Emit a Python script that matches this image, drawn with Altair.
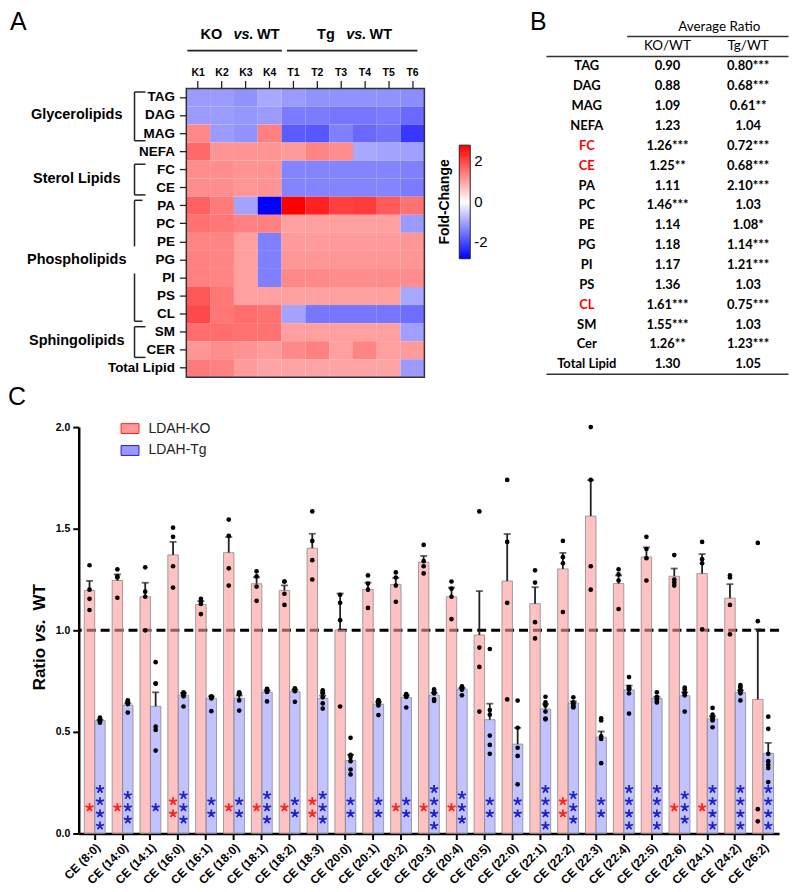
import altair as alt
import pandas as pd

FONT = "Liberation Sans"
TFONT = "Lato"

# ============================== Panel A : heat map ==============================
lipid_rows = ["TAG", "DAG", "MAG", "NEFA", "FC", "CE", "PA", "PC", "PE", "PG",
              "PI", "PS", "CL", "SM", "CER", "Total Lipid"]
sample_cols = ["K1", "K2", "K3", "K4", "T1", "T2", "T3", "T4", "T5", "T6"]
fold_change = [
    [-1.10, -1.10, -1.20, -0.95, -1.10, -1.20, -1.20, -1.20, -1.20, -1.25],  # TAG
    [-1.10, -1.10, -1.15, -1.10, -1.45, -1.45, -1.50, -1.50, -1.45, -1.65],  # DAG
    [1.30, -1.10, -1.20, 1.40, -1.80, -1.85, -1.40, -1.65, -1.55, -2.20],    # MAG
    [1.65, 1.18, 1.18, 1.18, 1.10, 1.35, 1.25, -0.95, -1.00, -1.05],         # NEFA
    [1.25, 1.25, 1.20, 1.20, -1.35, -1.35, -1.35, -1.35, -1.35, -1.40],      # FC
    [1.25, 1.25, 1.15, 1.20, -1.35, -1.35, -1.35, -1.35, -1.35, -1.45],      # CE
    [1.75, 1.45, -1.00, -2.80, 2.80, 2.45, 2.10, 2.15, 1.80, 1.55],          # PA
    [1.55, 1.50, 1.40, 1.40, 1.05, 1.05, 1.05, 1.05, 1.05, -1.10],           # PC
    [1.35, 1.35, 1.05, -1.40, 1.10, 1.10, 1.10, 1.10, 1.10, 1.15],           # PE
    [1.40, 1.35, 1.05, -1.40, 1.15, 1.15, 1.15, 1.15, 1.15, 1.15],           # PG
    [1.40, 1.35, 1.05, -1.40, 1.30, 1.30, 1.25, 1.25, 1.25, 1.25],           # PI
    [1.85, 1.50, 1.05, 1.05, 1.05, 1.05, 1.05, 1.05, 1.05, -0.95],           # PS
    [2.00, 1.50, 1.60, 1.55, -1.00, -1.50, -1.50, -1.50, -1.50, -1.60],      # CL
    [1.60, 1.60, 1.55, 1.55, 1.05, 1.05, 1.05, 1.05, 1.05, -1.05],           # SM
    [1.15, 1.25, 1.20, 1.10, 1.30, 1.40, 1.05, 1.35, 1.05, 1.10],            # CER
    [1.45, 1.40, 1.10, 1.00, 1.00, 1.00, 1.00, 1.00, 1.00, -1.10],           # Total
]
lipid_groups = ["Glycerolipids", "Sterol Lipids", "Phospholipids", "Sphingolipids"]
group_first = ["TAG", "FC", "PA", "SM"]
group_last = ["MAG", "CE", "CL", "CER"]
legend_ticks = [-2, 0, 2]

# ============================== Panel B : table ==============================
table_rows = ["TAG", "DAG", "MAG", "NEFA", "FC", "CE", "PA", "PC", "PE", "PG",
              "PI", "PS", "CL", "SM", "Cer", "Total Lipid"]
ko_ratio = [0.90, 0.88, 1.09, 1.23, 1.26, 1.25, 1.11, 1.46, 1.14, 1.18, 1.17, 1.36, 1.61, 1.55, 1.26, 1.30]
ko_sig = ["", "", "", "", "***", "**", "", "***", "", "", "", "", "***", "***", "**", ""]
tg_ratio = [0.80, 0.68, 0.61, 1.04, 0.72, 0.68, 2.10, 1.03, 1.08, 1.14, 1.21, 1.03, 0.75, 1.03, 1.23, 1.05]
tg_sig = ["***", "***", "**", "", "***", "***", "***", "", "*", "***", "***", "", "***", "", "***", ""]
highlight_rows = ["FC", "CE", "CL"]

# ============================== Panel C : bars ==============================
ce_species = ["CE (8:0)", "CE (14:0)", "CE (14:1)", "CE (16:0)", "CE (16:1)", "CE (18:0)",
              "CE (18:1)", "CE (18:2)", "CE (18:3)", "CE (20:0)", "CE (20:1)", "CE (20:2)",
              "CE (20:3)", "CE (20:4)", "CE (20:5)", "CE (22:0)", "CE (22:1)", "CE (22:2)",
              "CE (22:3)", "CE (22:4)", "CE (22:5)", "CE (22:6)", "CE (24:1)", "CE (24:2)",
              "CE (26:2)"]
groups = ["LDAH-KO", "LDAH-Tg"]
ko_mean = [1.196, 1.245, 1.165, 1.371, 1.127, 1.382, 1.229, 1.196, 1.404, 1.001, 1.201, 1.226,
           1.335, 1.165, 0.977, 1.242, 1.131, 1.302, 1.562, 1.230, 1.361, 1.266, 1.279, 1.158, 0.660]
ko_sem = [0.047, 0.030, 0.069, 0.064, 0.017, 0.077, 0.032, 0.025, 0.071, 0.180, 0.034, 0.032,
          0.031, 0.045, 0.216, 0.232, 0.081, 0.079, 0.177, 0.040, 0.047, 0.038, 0.096, 0.069, 0.345]
tg_mean = [0.555, 0.632, 0.626, 0.681, 0.665, 0.666, 0.695, 0.698, 0.665, 0.359, 0.637, 0.670,
           0.681, 0.710, 0.560, 0.440, 0.613, 0.642, 0.474, 0.706, 0.665, 0.678, 0.564, 0.694, 0.395]
tg_sem = [0.005, 0.009, 0.069, 0.010, 0.010, 0.013, 0.009, 0.009, 0.013, 0.028, 0.011, 0.010,
          0.011, 0.006, 0.079, 0.080, 0.024, 0.008, 0.028, 0.022, 0.008, 0.016, 0.013, 0.010, 0.051]
ko_points = [
    [1.32, 1.20, 1.155, 1.10], [1.30, 1.265, 1.26, 1.16], [1.31, 1.19, 1.165, 1.00],
    [1.505, 1.46, 1.315, 1.21], [1.155, 1.14, 1.13, 1.08], [1.545, 1.465, 1.305, 1.22],
    [1.29, 1.265, 1.215, 1.145], [1.24, 1.24, 1.18, 1.125], [1.585, 1.44, 1.345, 1.25],
    [1.175, 1.135, 1.05, 0.625], [1.27, 1.23, 1.20, 1.11], [1.285, 1.26, 1.22, 1.14],
    [1.42, 1.34, 1.315, 1.28], [1.24, 1.205, 1.165, 1.055], [1.585, 0.915, 0.82, 0.60],
    [1.74, 1.435, 1.135, 0.66], [1.295, 1.235, 1.04, 0.96], [1.44, 1.36, 1.33, 1.09],
    [2.0, 1.74, 1.315, 1.20], [1.30, 1.275, 1.245, 1.105], [1.46, 1.40, 1.355, 1.245],
    [1.37, 1.25, 1.235, 1.22], [1.435, 1.35, 1.33, 1.005], [1.27, 1.26, 1.125, 0.98],
    [1.43, 1.045, 0.12, 0.06],
]
tg_points = [
    [0.57, 0.565, 0.56, 0.555, 0.55, 0.545], [0.655, 0.65, 0.645, 0.64, 0.637, 0.595],
    [0.843, 0.738, 0.738, 0.526, 0.51, 0.408], [0.695, 0.69, 0.685, 0.68, 0.675, 0.625],
    [0.675, 0.673, 0.67, 0.668, 0.665, 0.602], [0.695, 0.69, 0.688, 0.685, 0.655, 0.605],
    [0.712, 0.708, 0.705, 0.70, 0.697, 0.65], [0.715, 0.71, 0.707, 0.703, 0.70, 0.648],
    [0.705, 0.695, 0.69, 0.67, 0.64, 0.615], [0.471, 0.387, 0.377, 0.356, 0.315, 0.291],
    [0.656, 0.652, 0.646, 0.64, 0.63, 0.583], [0.686, 0.683, 0.68, 0.676, 0.672, 0.62],
    [0.71, 0.70, 0.695, 0.69, 0.66, 0.652], [0.724, 0.72, 0.716, 0.712, 0.708, 0.68],
    [0.908, 0.608, 0.585, 0.482, 0.436, 0.392], [0.654, 0.52, 0.422, 0.382, 0.242],
    [0.673, 0.645, 0.63, 0.60, 0.566, 0.562], [0.67, 0.645, 0.64, 0.632, 0.625, 0.62],
    [0.567, 0.556, 0.478, 0.465, 0.346], [0.77, 0.72, 0.715, 0.71, 0.69, 0.59],
    [0.695, 0.672, 0.664, 0.66, 0.65, 0.645], [0.718, 0.71, 0.695, 0.688, 0.68, 0.60],
    [0.618, 0.585, 0.572, 0.565, 0.556, 0.523], [0.73, 0.72, 0.708, 0.70, 0.69, 0.655],
    [0.575, 0.515, 0.392, 0.356, 0.338, 0.322, 0.253],
]
ko_stars = [1, 1, 0, 2, 0, 1, 1, 1, 2, 0, 0, 1, 1, 1, 0, 0, 0, 2, 0, 0, 0, 1, 1, 0, 0]
tg_stars = [4, 3, 1, 3, 2, 2, 3, 2, 3, 2, 2, 2, 4, 3, 2, 2, 4, 3, 2, 4, 4, 3, 4, 4, 4]
y_ticks = [0, 0.5, 1.0, 1.5, 2.0]
reference_ratio = [1.0]

# ---------------------------------------------------------------- tables
heat_df = pd.DataFrame([{"row": r, "col": c, "val": fold_change[i][j]}
                        for i, r in enumerate(lipid_rows) for j, c in enumerate(sample_cols)])
grp_df = pd.DataFrame({"group": lipid_groups, "first": group_first, "last": group_last})

tab = []
for i, r in enumerate(table_rows):
    tab.append({"row": r, "col": "name", "t": r})
    tab.append({"row": r, "col": "ko", "t": f"{ko_ratio[i]:.2f}{ko_sig[i]}"})
    tab.append({"row": r, "col": "tg", "t": f"{tg_ratio[i]:.2f}{tg_sig[i]}"})
tab_df = pd.DataFrame(tab)
tab_hdr = pd.DataFrame([{"row": "h2", "col": "ko", "t": "KO/WT"},
                        {"row": "h2", "col": "tg", "t": "Tg/WT"}])

bar_df = pd.DataFrame(
    [{"cat": c, "grp": groups[0], "m": ko_mean[i], "se": ko_sem[i]} for i, c in enumerate(ce_species)] +
    [{"cat": c, "grp": groups[1], "m": tg_mean[i], "se": tg_sem[i]} for i, c in enumerate(ce_species)])
pts_df = pd.DataFrame(
    [{"cat": c, "grp": groups[0], "v": v} for i, c in enumerate(ce_species) for v in ko_points[i]] +
    [{"cat": c, "grp": groups[1], "v": v} for i, c in enumerate(ce_species) for v in tg_points[i]])
star_df = pd.DataFrame(
    [{"cat": c, "grp": groups[0], "k": k, "n": ko_stars[i]} for i, c in enumerate(ce_species) for k in range(ko_stars[i])] +
    [{"cat": c, "grp": groups[1], "k": k, "n": tg_stars[i]} for i, c in enumerate(ce_species) for k in range(tg_stars[i])])

# ---------------------------------------------------------------- helpers
one = pd.DataFrame({"t": [""]})


def txt(text, x, y, size, weight="bold", style="normal", align="center",
        baseline="middle", font=FONT, angle=None, color="black"):
    kw = dict(text=text, fontSize=size, fontWeight=weight, fontStyle=style, align=align,
              baseline=baseline, font=font, color=color)
    if angle is not None:
        kw["angle"] = angle
    return alt.Chart(one).mark_text(**kw).encode(x=alt.value(x), y=alt.value(y))


def hline(x1, x2, y, w=1.6, color="#222"):
    return alt.Chart(one).mark_rule(color=color, strokeWidth=w).encode(
        x=alt.value(x1), x2=alt.value(x2), y=alt.value(y))


# ---------------------------------------------------------------- Panel A
HX = [108, 347]
HY = [-340, -50]
hx_scale = alt.Scale(domain=sample_cols, range=HX, paddingInner=0, paddingOuter=0)
hy_scale = alt.Scale(domain=lipid_rows, range=HY, paddingInner=0, paddingOuter=0)
hy_axis = alt.Axis(orient="left", offset=-108, labelFont=FONT, labelFontSize=13.5,
                   labelFontWeight="bold", labelColor="black", tickSize=7, tickWidth=1.3,
                   tickColor="#222", domain=False, labelPadding=5, title=None)

heat = alt.Chart(heat_df).mark_rect().encode(
    x=alt.X("col:N", sort=sample_cols, scale=hx_scale,
            axis=alt.Axis(orient="top", offset=340, labelAngle=0, labelFont=FONT, labelFontSize=10.5,
                          labelFontWeight="bold", labelColor="black", tickSize=8, tickWidth=1.3,
                          tickColor="#222", domain=False, labelPadding=3, title=None)),
    y=alt.Y("row:N", sort=lipid_rows, scale=hy_scale, axis=hy_axis),
    color=alt.Color("val:Q",
                    scale=alt.Scale(domain=[-2.8, 0, 2.8], range=["#0000ff", "#ffffff", "#ff0000"],
                                    interpolate="rgb"),
                    legend=alt.Legend(orient="none", legendX=361, legendY=-283, direction="vertical",
                                      gradientLength=114, gradientThickness=11, values=legend_ticks,
                                      labelExpr="datum.value < 0 ? '-' + abs(datum.value) : '' + datum.value",
                                      title="Fold-Change", titleOrient="left", titleAnchor="middle",
                                      titleFont=FONT, titleFontSize=14, titleFontWeight="bold",
                                      titleColor="black", titlePadding=6, labelFont=FONT,
                                      labelFontSize=15, labelColor="black", labelOffset=4,
                                      gradientStrokeColor="#222", gradientStrokeWidth=1, padding=0)),
)
frame = alt.Chart(one).mark_rect(filled=False, stroke="#333", strokeWidth=1.5).encode(
    x=alt.value(HX[0]), x2=alt.value(HX[1]), y=alt.value(HY[0]), y2=alt.value(HY[1]))

BR_X = 56
split = "Phospholipids"
whole = grp_df[grp_df.group != split]
part = grp_df[grp_df.group == split]
i0 = lipid_rows.index(part["first"].iloc[0])
i1 = lipid_rows.index(part["last"].iloc[0])
mid_row = lipid_rows[(i0 + i1 + 1) // 2]
seg_df = pd.DataFrame({"a": [part["first"].iloc[0], lipid_rows[lipid_rows.index(mid_row) + 1]],
                       "b": [lipid_rows[lipid_rows.index(mid_row) - 1], part["last"].iloc[0]]})


def vseg(df, fa, ba, fb, bb):
    return alt.Chart(df).mark_rule(color="#222", strokeWidth=1.5).encode(
        x=alt.value(BR_X),
        y=alt.Y(f"{fa}:N", bandPosition=ba, scale=hy_scale, axis=hy_axis),
        y2=alt.Y2(f"{fb}:N", bandPosition=bb))


def hseg(df, f, b, length):
    return alt.Chart(df).mark_rule(color="#222", strokeWidth=1.5).encode(
        x=alt.value(BR_X), x2=alt.value(BR_X + length),
        y=alt.Y(f"{f}:N", bandPosition=b, scale=hy_scale, axis=hy_axis))


brackets = [
    vseg(whole, "first", 0.2, "last", 0.9),
    vseg(seg_df.iloc[[0]], "a", 0.2, "b", 0.75),
    vseg(seg_df.iloc[[1]], "a", 0.25, "b", 0.9),
    hseg(whole, "first", 0.2, 11), hseg(whole, "last", 0.9, 11),
    hseg(part, "first", 0.2, 8), hseg(part, "last", 0.9, 8),
]

lab_rows = []
for g, a, b in zip(lipid_groups, group_first, group_last):
    ia, ib = lipid_rows.index(a), lipid_rows.index(b)
    mid = (ia + ib + 1) / 2
    lab_rows.append({"group": g, "anchor": lipid_rows[int(mid)], "frac": mid - int(mid)})
lab_df = pd.DataFrame(lab_rows)
group_labels = []
for frac in sorted(lab_df.frac.unique()):
    group_labels.append(
        alt.Chart(lab_df[lab_df.frac == frac]).mark_text(
            font=FONT, fontSize=14.5, fontWeight="bold", color="black", align="center", baseline="middle"
        ).encode(x=alt.value(-2),
                 y=alt.Y("anchor:N", bandPosition=float(frac), scale=hy_scale, axis=hy_axis),
                 text="group:N"))

panel_a = alt.layer(heat, frame, *brackets, *group_labels)

heads = [
    txt("KO", 144, -394, 14.5, align="right"), txt("vs.", 165.5, -394, 14.5, style="italic"),
    txt("WT", 179, -394, 14.5, align="left"),
    txt("Tg", 257, -394, 14.5, align="right"), txt("vs.", 278.5, -394, 14.5, style="italic"),
    txt("WT", 292, -394, 14.5, align="left"),
    hline(109, 204, -378, 1.8), hline(209, 340, -378, 1.8),
]

# ---------------------------------------------------------------- Panel B
tab_cols = ["name", "ko", "tg"]
tx_scale = alt.Scale(domain=tab_cols, range=[469.5, 712.5], paddingInner=0, paddingOuter=0)
ty_scale = alt.Scale(domain=["h1", "h2"] + table_rows, range=[-412, -53], paddingInner=0, paddingOuter=0)

tbl_text = alt.Chart(tab_df).mark_text(font=TFONT, fontSize=13, fontWeight="bold").encode(
    x=alt.X("col:N", scale=tx_scale, axis=None),
    y=alt.Y("row:N", scale=ty_scale, axis=None),
    text="t:N",
    color=alt.condition(alt.FieldOneOfPredicate(field="t", oneOf=highlight_rows),
                        alt.value("#ff0000"), alt.value("black")),
)
tbl_head = alt.Chart(tab_hdr).mark_text(font=TFONT, fontSize=13.5, color="black").encode(
    x=alt.X("col:N", scale=tx_scale, axis=None),
    y=alt.Y("row:N", scale=ty_scale, axis=None),
    text="t:N",
)
tbl_title = alt.Chart(pd.DataFrame({"row": ["h1"], "t": ["Average Ratio"]})).mark_text(
    font=TFONT, fontSize=13.5, color="black").encode(
    x=alt.value(643), y=alt.Y("row:N", scale=ty_scale, axis=None), text="t:N")
rule_df = pd.DataFrame({"a": ["ko", "name"], "b": ["tg", "tg"], "r": ["h2", table_rows[0]]})
tbl_rules = alt.Chart(rule_df).mark_rule(color="#333", strokeWidth=1.5).encode(
    x=alt.X("a:N", bandPosition=0, scale=tx_scale, axis=None),
    x2=alt.X2("b:N", bandPosition=1),
    y=alt.Y("r:N", bandPosition=0, scale=ty_scale, axis=None))
bot_df = pd.DataFrame({"a": ["name"], "b": ["tg"], "r": [table_rows[-1]]})
tbl_bottom = alt.Chart(bot_df).mark_rule(color="#333", strokeWidth=1.5).encode(
    x=alt.X("a:N", bandPosition=0, scale=tx_scale, axis=None),
    x2=alt.X2("b:N", bandPosition=1),
    y=alt.Y("r:N", bandPosition=1, scale=ty_scale, axis=None))
panel_b = alt.layer(tbl_text, tbl_head, tbl_title, tbl_rules, tbl_bottom)

# ---------------------------------------------------------------- Panel C
XB = alt.X("cat:N", sort=ce_species,
           scale=alt.Scale(domain=ce_species, paddingInner=0.25, paddingOuter=0.2),
           axis=alt.Axis(orient="bottom", labelAngle=-45, labelFont=FONT, labelFontSize=12,
                         labelFontWeight="bold", labelColor="black", tickSize=6, tickWidth=2,
                         tickColor="black", domainWidth=2.5, domainColor="black", labelPadding=2,
                         title=None))
XO = alt.XOffset("grp:N", scale=alt.Scale(domain=groups, paddingInner=0, paddingOuter=0))
YS = alt.Scale(domain=[0, 2], nice=False)
YA = alt.Axis(orient="left", values=y_ticks, format=".1f", labelFont=FONT, labelFontSize=10.5,
              labelFontWeight="bold", labelColor="black", tickSize=6, tickWidth=2, tickColor="black",
              domainWidth=2.5, domainColor="black", labelPadding=3, title=None, grid=False)
ASTERISK = ("M0,-1L0,0M0.951,-0.309L0,0M0.588,0.809L0,0M-0.588,0.809L0,0M-0.951,-0.309L0,0")

dash = alt.Chart(pd.DataFrame({"ref": reference_ratio})).mark_rule(
    strokeDash=[9, 5], strokeWidth=3, color="black").encode(y=alt.Y("ref:Q", scale=YS, axis=YA))
bars = alt.Chart(bar_df).mark_bar(fillOpacity=0.6, stroke="#8a8a8a", strokeWidth=0.8).encode(
    x=XB, xOffset=XO, y=alt.Y("m:Q", scale=YS, axis=YA),
    fill=alt.Fill("grp:N", scale=alt.Scale(domain=groups, range=["#ff9999", "#9999ff"]),
                  legend=alt.Legend(orient="none", legendX=42, legendY=-8, title=None,
                                    symbolType="M-1,-0.55H1V0.55H-1Z", symbolSize=324,
                                    symbolOpacity=1, symbolStrokeColor="#555", symbolStrokeWidth=1,
                                    labelFont=FONT, labelFontSize=14, labelColor="#222",
                                    labelOffset=9, rowPadding=5, padding=0)))
err = alt.Chart(bar_df).transform_calculate(top="datum.m + datum.se").mark_rule(
    color="#222", strokeWidth=1.8).encode(
    x=XB, xOffset=XO, y=alt.Y("m:Q", scale=YS, axis=YA), y2="top:Q")
cap = alt.Chart(bar_df).transform_calculate(top="datum.m + datum.se").mark_tick(
    color="#222", thickness=1.8, size=7).encode(
    x=XB, xOffset=XO, y=alt.Y("top:Q", scale=YS, axis=YA))
pts = alt.Chart(pts_df).mark_circle(size=22, color="black", opacity=1).encode(
    x=XB, xOffset=XO, y=alt.Y("v:Q", scale=YS, axis=YA))
stars = alt.Chart(star_df).transform_calculate(
    sy="0.128 + ((datum.n - 1) / 2 - datum.k) * 0.06").mark_point(
    shape=ASTERISK, filled=False, size=72, strokeWidth=1.8, opacity=1).encode(
    x=XB, xOffset=XO, y=alt.Y("sy:Q", scale=YS, axis=YA),
    stroke=alt.Stroke("grp:N", scale=alt.Scale(domain=groups, range=["#ff2020", "#2020cc"]),
                      legend=None))
panel_c = alt.layer(dash, bars, err, cap, pts, stars)

ytitle = [
    txt("Ratio", -39, 243, 17, angle=270),
    txt("vs.", -39, 204.5, 17, style="italic", angle=270),
    txt("WT", -39, 171, 17, angle=270),
]
letters = [
    txt("A", -69, -399, 25, weight="normal", align="left", baseline="alphabetic"),
    txt("B", 453, -399, 25, weight="normal", align="left", baseline="alphabetic"),
    txt("C", -71, -22, 25, weight="normal", align="left", baseline="alphabetic"),
]

chart = alt.layer(panel_a, panel_b, panel_c, *heads, *ytitle, *letters).resolve_scale(
    x="independent", y="independent", color="independent", fill="independent",
    stroke="independent").resolve_axis(x="independent", y="independent").resolve_legend(
    color="independent", fill="independent", stroke="independent").properties(
    width=703, height=408, padding=0).configure_view(stroke=None).configure_axis(grid=False)

chart.save("out.html", embed_options={"renderer": "svg", "actions": False})
